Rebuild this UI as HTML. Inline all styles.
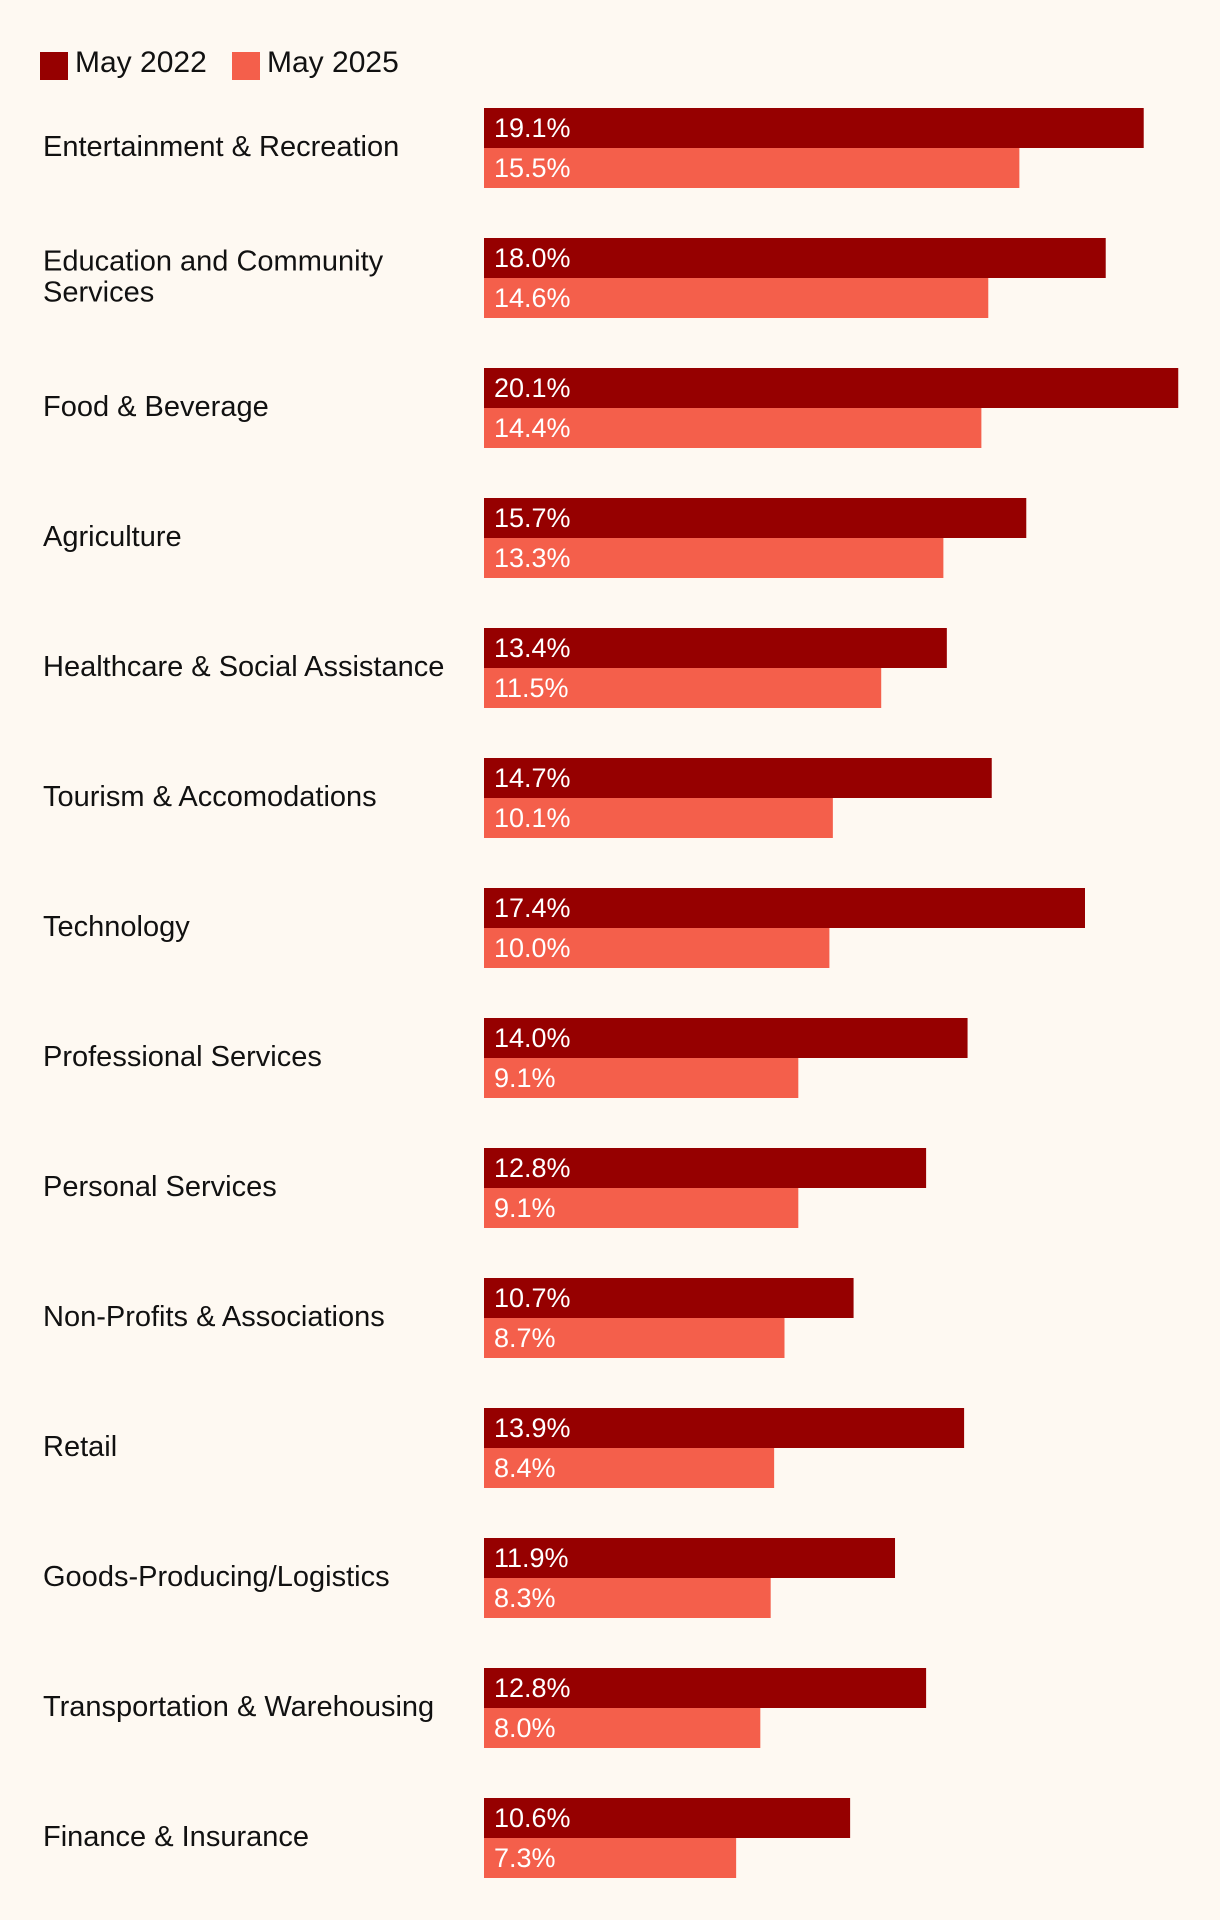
<!DOCTYPE html>
<html><head><meta charset="utf-8"><style>
html,body{margin:0;padding:0;background:#fef9f2;}
svg{display:block;font-family:"Liberation Sans",sans-serif;}
</style></head><body>
<svg id="chart" width="1220" height="1920" viewBox="0 0 1220 1920">
<rect x="0" y="0" width="1220" height="1920" fill="#fef9f2"/>
<g>
<rect x="40" y="52" width="28" height="28" fill="#960000"/>
<text x="75" y="72" font-size="30" fill="#111">May 2022</text>
<rect x="232" y="52" width="28" height="28" fill="#f45f4b"/>
<text x="267" y="72" font-size="30" fill="#111">May 2025</text>
</g>
<g id="rows"></g>
</svg>
<script>
const categories = [
  ["Entertainment & Recreation"],
  ["Education and Community","Services"],
  ["Food & Beverage"],
  ["Agriculture"],
  ["Healthcare & Social Assistance"],
  ["Tourism & Accomodations"],
  ["Technology"],
  ["Professional Services"],
  ["Personal Services"],
  ["Non-Profits & Associations"],
  ["Retail"],
  ["Goods-Producing/Logistics"],
  ["Transportation & Warehousing"],
  ["Finance & Insurance"]
];
const may2022 = [19.1,18.0,20.1,15.7,13.4,14.7,17.4,14.0,12.8,10.7,13.9,11.9,12.8,10.6];
const may2025 = [15.5,14.6,14.4,13.3,11.5,10.1,10.0,9.1,9.1,8.7,8.4,8.3,8.0,7.3];

const NS = "http://www.w3.org/2000/svg";
const x0 = 484, perPct = 34.54;
const top0 = 108, pitch = 130.0, barH = 40;
function xScale(v){ return v * perPct; }
function rowTop(i){ return top0 + i * pitch; }
const g = document.getElementById("rows");
function mk(tag, attrs){ const e = document.createElementNS(NS, tag); for (const k in attrs) e.setAttribute(k, attrs[k]); return e; }

categories.forEach((lines, i) => {
  const t = rowTop(i);
  const mid = t + barH;
  const lab = mk("text", {x: 43, "font-size": 29, fill: "#111"});
  
  
  const n = lines.length;
  lines.forEach((ln, j) => {
    const ts = mk("tspan", {x: 43, y: mid + 8 + (j - (n-1)/2) * 31});
    ts.textContent = ln;
    lab.appendChild(ts);
  });
  g.appendChild(lab);
  [[may2022[i], "#960000", 0, "bar-may-2022"], [may2025[i], "#f45f4b", 1, "bar-may-2025"]].forEach(([v, c, k, nm]) => {
    const y = t + k * barH;
    const r = mk("rect", {x: x0, y: y, width: xScale(v), height: barH, fill: c});
    
    
    g.appendChild(r);
    const tx = mk("text", {x: x0 + 10, y: y + 29, "font-size": 27, fill: "#fff"});
    
    
    tx.textContent = v.toFixed(1) + "%";
    g.appendChild(tx);
  });
});
</script>
</body></html>
